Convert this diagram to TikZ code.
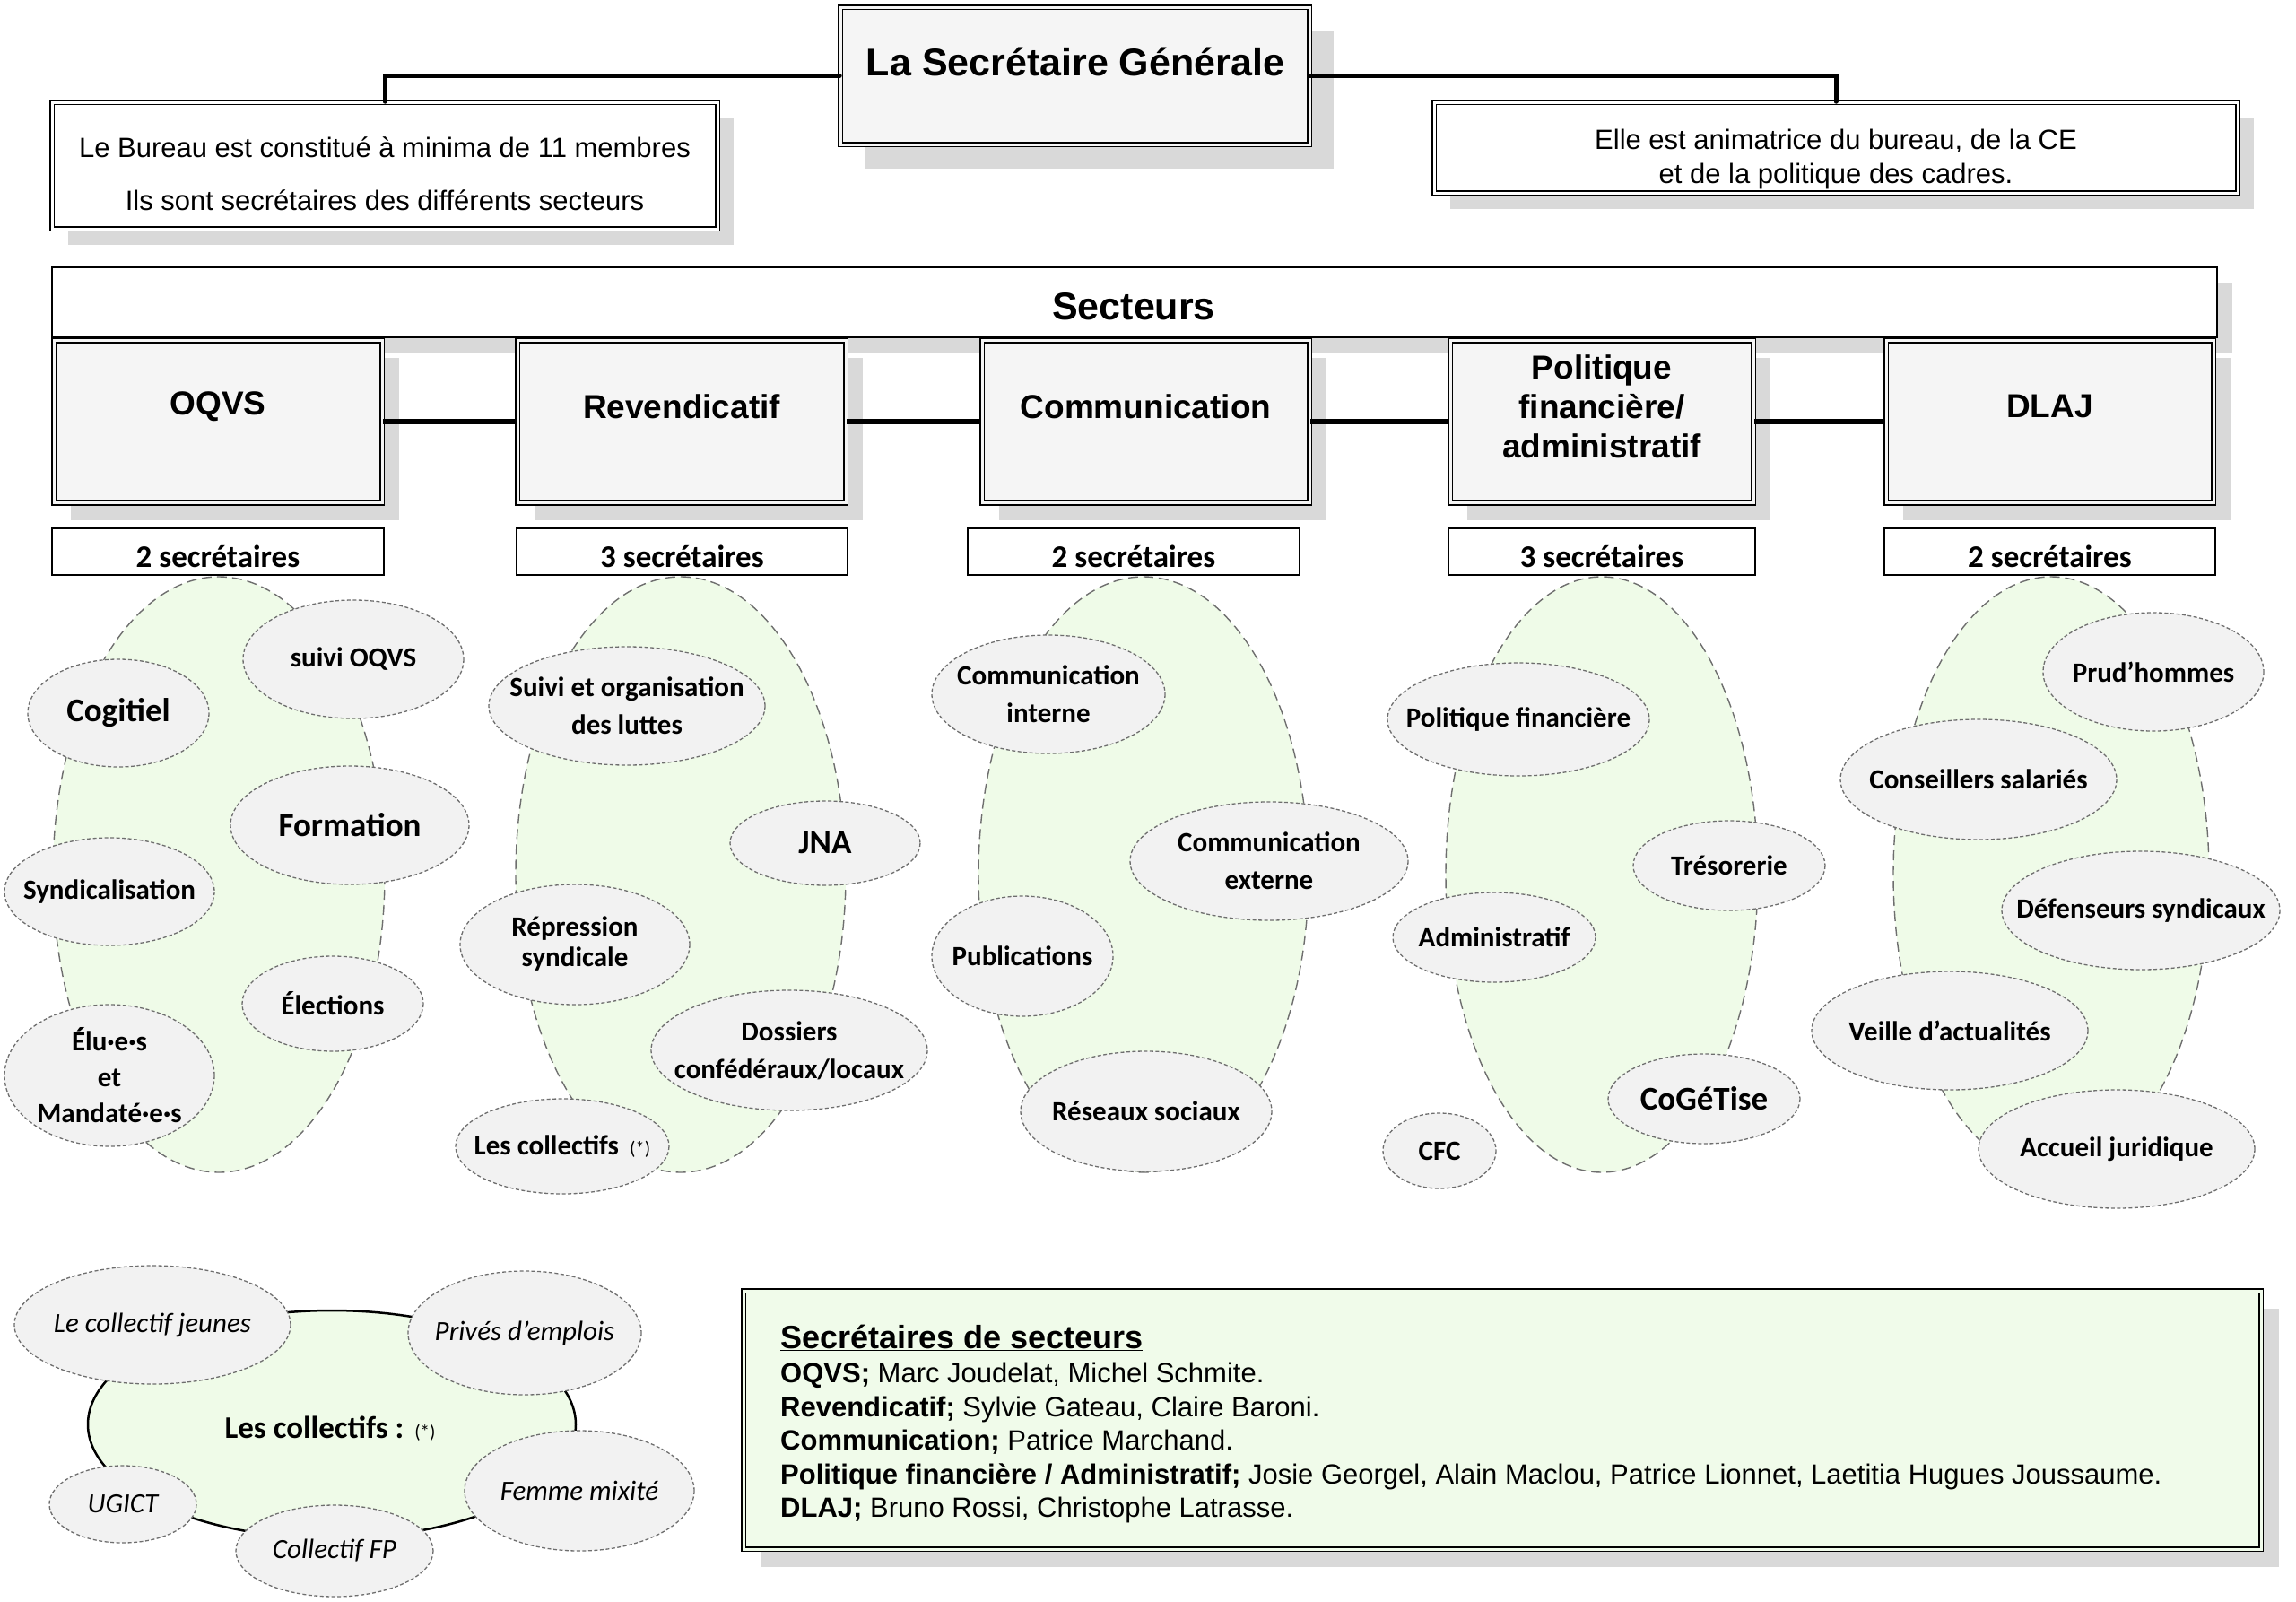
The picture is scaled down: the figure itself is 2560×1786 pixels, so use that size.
\documentclass[tikz,border=0pt]{standalone}
\usepackage{fontspec}
\setmainfont{Liberation Sans}
\newfontfamily\calib{Carlito}
\usetikzlibrary{shapes.geometric,shadows}
\definecolor{greenfill}{RGB}{239,251,232}
\definecolor{bubfill}{RGB}{242,242,242}
\definecolor{boxfill}{RGB}{245,245,245}
\definecolor{shadowgray}{RGB}{217,217,217}
\definecolor{dashgray}{RGB}{110,110,110}
\definecolor{legendfill}{RGB}{240,251,234}
\newcommand\mybub[6]{%
  \path[bubshape] (#2,#3) ellipse [x radius=#4, y radius=#5];
  \node[bubtxt] (#1) at (#2,#3) {#6};}
\newcommand\mybubB[6]{%
  \path[bubshape] (#2,#3) ellipse [x radius=#4, y radius=#5];
  \node[bigtxt] (#1) at (#2,#3) {#6};}
\newcommand\mybubI[6]{%
  \path[bubshape] (#2,#3) ellipse [x radius=#4, y radius=#5];
  \node[ittxt] (#1) at (#2,#3) {#6};}
\begin{document}
\begin{tikzpicture}[x=1pt,y=-1pt,
 dline/.style={draw=black, line width=1.6pt, double distance=3pt},
 shad/.style={drop shadow={shadow xshift=#1pt, shadow yshift=-#1pt, fill=shadowgray, opacity=1}},
 topbox/.style={rectangle, inner sep=0pt, dline, double=white, fill=white, shad=18},
 sgbox/.style={rectangle, inner sep=0pt, dline, double=boxfill, fill=boxfill, shad=27},
 secbox/.style={rectangle, inner sep=0pt, dline, double=boxfill, fill=boxfill, shad=19, minimum height=181pt},
 nbbox/.style={rectangle, inner sep=0pt, draw=black, line width=2.2pt, fill=white, minimum height=52pt},
 conn/.style={line width=5pt, line cap=round},
 sconn/.style={line width=6pt},
 greenell/.style={draw=dashgray, fill=greenfill, line width=1.4pt, dash pattern=on 11pt off 6pt},
 bubshape/.style={draw=dashgray, fill=bubfill, line width=1.3pt, dash pattern=on 4pt off 2.5pt},
 bubtxt/.style={inner sep=0pt, align=center, font=\calib\bfseries\fontsize{31}{42}\selectfont},
 bigtxt/.style={inner sep=0pt, align=center, font=\calib\bfseries\fontsize{37}{42}\selectfont},
 ittxt/.style={inner sep=0pt, align=center, font=\calib\itshape\fontsize{31}{40}\selectfont},
 sectxt/.style={inner sep=0pt, align=center, font=\bfseries\fontsize{37}{44}\selectfont},
 nbtxt/.style={inner sep=0pt, font=\calib\bfseries\fontsize{35}{40}\selectfont},
 toptxt/.style={inner sep=0pt, align=center, font=\fontsize{31}{38}\selectfont},
 lst/.style={inner sep=0pt, anchor=base west, font=\fontsize{31}{38}\selectfont},
]
\useasboundingbox (0,0) rectangle (2560,1786);

% ---------- top ----------
\node[sgbox, minimum width=523pt, minimum height=153pt] (sg) at (1198.5,84.5) {};
\node[inner sep=0pt, font=\bfseries\fontsize{43}{50}\selectfont] (sgt) at (1199,69) {La Secrétaire Générale};
\node[topbox, minimum width=742pt, minimum height=141pt] (bureau) at (429,184.5) {};
\node[toptxt, font=\fontsize{31}{59}\selectfont] (bureaut) at (429,194) {Le Bureau est constitué à minima de 11 membres\\Ils sont secrétaires des différents secteurs};
\node[topbox, minimum width=896pt, minimum height=101pt] (elle) at (2047,164.5) {};
\node[toptxt] (ellet) at (2047,177) {Elle est animatrice du bureau, de la CE\\et de la politique des cadres.};
\draw[conn] (sg.west) -| (bureau.north);
\draw[conn] (sg.east) -| (elle.north);

% ---------- secteurs ----------
\node[rectangle, draw=black, line width=2pt, fill=white, minimum width=2414pt, minimum height=78pt, shad=17] (secteurs) at (1265,337) {};
\node[inner sep=0pt, font=\bfseries\fontsize{43}{50}\selectfont] (secteurst) at (1264,342) {Secteurs};

\node[secbox, minimum width=366pt] (oqvs) at (243,470) {};
\node[secbox, minimum width=366pt] (rev) at (760,470) {};
\node[secbox, minimum width=365pt] (comm) at (1277.5,470) {};
\node[secbox, minimum width=338pt] (pol) at (1786,470) {};
\node[secbox, minimum width=365pt] (dlaj) at (2285.5,470) {};
\node[sectxt] (oqvst) at (243,453) {OQVS};
\node[sectxt] (revt) at (760,453) {Revendicatif};
\node[sectxt] (commt) at (1277.5,453) {Communication};
\node[sectxt] (polt) at (1786,453) {Politique\\financière/\\administratif};
\node[sectxt] (dlajt) at (2285.5,453) {DLAJ};
\draw[sconn] (oqvs.east) -- (rev.west);
\draw[sconn] (rev.east) -- (comm.west);
\draw[sconn] (comm.east) -- (pol.west);
\draw[sconn] (pol.east) -- (dlaj.west);

\node[nbbox, minimum width=370pt] (n1) at (243,615) {};
\node[nbbox, minimum width=369pt] (n2) at (760.5,615) {};
\node[nbbox, minimum width=370pt] (n3) at (1264,615) {};
\node[nbbox, minimum width=342pt] (n4) at (1786,615) {};
\node[nbbox, minimum width=369pt] (n5) at (2285.5,615) {};
\node[nbtxt] (n1t) at (243,620) {2 secrétaires};
\node[nbtxt] (n2t) at (760.5,620) {3 secrétaires};
\node[nbtxt] (n3t) at (1264,620) {2 secrétaires};
\node[nbtxt] (n4t) at (1786,620) {3 secrétaires};
\node[nbtxt] (n5t) at (2285.5,620) {2 secrétaires};

% ---------- green groups ----------
\path[greenell] (244,975) ellipse [x radius=185, y radius=332];
\path[greenell] (759,975) ellipse [x radius=184, y radius=332];
\path[greenell] (1275,975) ellipse [x radius=184, y radius=332];
\path[greenell] (1786,975) ellipse [x radius=174, y radius=332];
\path[greenell] (2287,975) ellipse [x radius=176, y radius=332];

% OQVS
\mybub{suivi}{394}{735}{123}{66}{suivi OQVS}
\mybubB{cogitiel}{132}{795}{101}{60}{Cogitiel}
\mybubB{formation}{390}{920}{133}{66}{Formation}
\mybub{syndic}{122}{994}{117}{60}{Syndicalisation}
\mybub{elections}{371}{1119}{101}{53}{Élections}
\path[bubshape] (122,1199) ellipse [x radius=117, y radius=79];
\node[bubtxt, font=\calib\bfseries\fontsize{31}{40}\selectfont] (elus) at (122,1199) {Élu·e·s\\et\\Mandaté·e·s};
% Revendicatif
\mybub{luttes}{699}{787}{154}{66}{Suivi et organisation\\des luttes}
\mybubB{jna}{920}{940}{106}{47}{JNA}
\path[bubshape] (641,1053) ellipse [x radius=128, y radius=67];
\node[bubtxt, font=\calib\bfseries\fontsize{31}{34}\selectfont] (repression) at (641,1052) {Répression\\syndicale};
\mybub{dossiers}{880}{1171}{154}{67}{Dossiers\\confédéraux/locaux}
\mybub{lescoll}{627}{1278}{119}{53}{Les collectifs\hspace{12pt}{\mdseries\fontsize{21}{24}\selectfont(*)}}
% Communication
\mybub{cint}{1169}{774}{130}{66}{Communication\\interne}
\mybub{cext}{1415}{960}{155}{66}{Communication\\externe}
\mybub{pub}{1140}{1066}{101}{67}{Publications}
\mybub{reseaux}{1278}{1239}{140}{67}{Réseaux sociaux}
% Politique
\mybub{polfin}{1693}{802}{146}{63}{Politique financière}
\mybub{treso}{1928}{965}{107}{50}{Trésorerie}
\mybub{admin}{1666}{1045}{113}{50}{Administratif}
\mybubB{cogetise}{1900}{1225}{107}{50}{CoGéTise}
\mybub{cfc}{1605}{1283}{63}{42}{CFC}
% DLAJ
\mybub{prud}{2401}{749}{123}{66}{Prud’hommes}
\mybub{conseillers}{2206}{869}{154}{67}{Conseillers salariés}
\mybub{defenseurs}{2387}{1015}{155}{66}{Défenseurs syndicaux}
\mybub{veille}{2174}{1149}{154}{66}{Veille d’actualités}
\mybub{accueil}{2360}{1281}{154}{66}{Accueil juridique}

% ---------- les collectifs ----------
\path[draw=black, line width=2.5pt, fill=greenfill] (370,1588) ellipse [x radius=272, y radius=127];
\node[inner sep=0pt, font=\calib\bfseries\fontsize{35}{40}\selectfont] (collt) at (368,1593) {Les collectifs :\hspace{12pt}{\mdseries\fontsize{21}{24}\selectfont(*)}};
\mybubI{jeunes}{170}{1477}{154}{66}{Le collectif jeunes}
\mybubI{prives}{585}{1486}{130}{69}{Privés d’emplois}
\mybubI{ugict}{137}{1677}{82}{43}{UGICT}
\mybubI{fp}{373}{1729}{110}{51}{Collectif FP}
\mybubI{femme}{646}{1662}{128}{67}{Femme mixité}

% ---------- legend ----------
\node[rectangle, inner sep=0pt, dline, double=legendfill, fill=legendfill, shad=20, minimum width=1692pt, minimum height=288pt] (legend) at (1675,1583) {};
\node[lst, font=\bfseries\fontsize{36}{40}\selectfont] (ltitle) at (870,1503) {\underline{Secrétaires de secteurs}};
\node[lst] (l1) at (870,1541) {\textbf{OQVS;} Marc Joudelat, Michel Schmite.};
\node[lst] (l2) at (870,1579) {\textbf{Revendicatif;} Sylvie Gateau, Claire Baroni.};
\node[lst] (l3) at (870,1616) {\textbf{Communication;} Patrice Marchand.};
\node[lst] (l4) at (870,1654) {\textbf{Politique financière / Administratif;} Josie Georgel, Alain Maclou, Patrice Lionnet, Laetitia Hugues Joussaume.};
\node[lst] (l5) at (870,1691) {\textbf{DLAJ;} Bruno Rossi, Christophe Latrasse.};
\end{tikzpicture}
\end{document}
